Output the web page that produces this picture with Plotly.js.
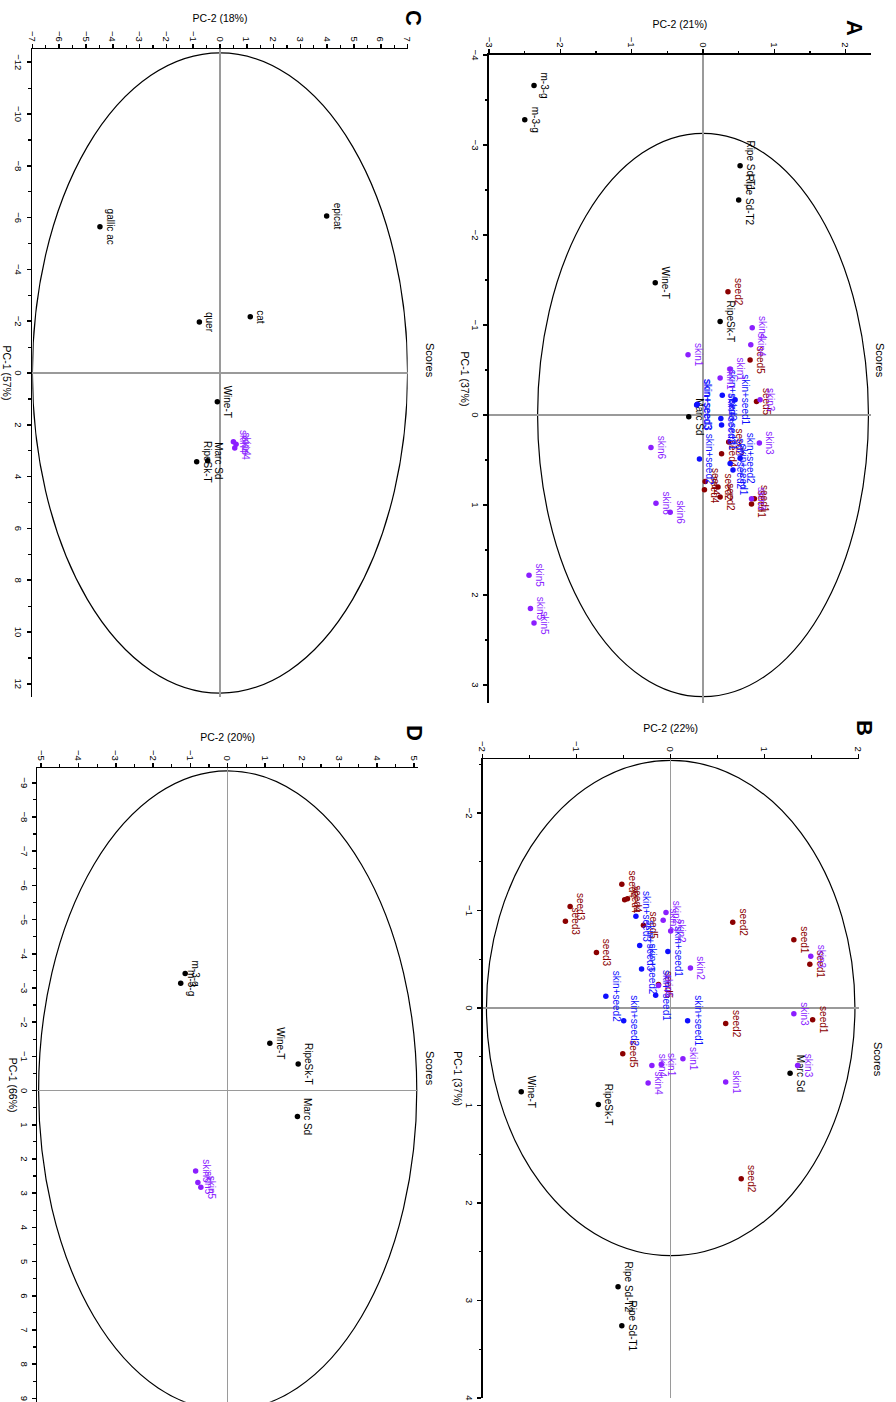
<!DOCTYPE html>
<html><head><meta charset="utf-8">
<script src="https://cdn.plot.ly/plotly-3.0.1.min.js"></script>
<style>
html,body{margin:0;padding:0;width:896px;height:1402px;overflow:hidden;background:#fff;}
#wrap{position:absolute;left:0;top:0;width:1402px;height:896px;transform-origin:0 0;transform:translate(896px,0) rotate(90deg);}
#chart{width:1402px;height:896px;}
</style></head><body><div id="wrap"><div id="chart"></div></div>
<script>
// ---------- Panel A ----------
const aRefLbl = ['m-3-g','m-3-g','Ripe Sd-T1','Ripe Sd-T2','Wine-T','RipeSk-T','Marc Sd'];
const aRefPC1 = [-3.66,-3.28,-2.77,-2.39,-1.47,-1.04,0.02];
const aRefPC2 = [-2.37,-2.50,0.52,0.50,-0.67,0.24,-0.20];
const aSeedLbl = ['seed2','seed5','seed5','seed2','seed4','seed4','seed4','seed2','seed2','seed1','seed1'];
const aSeedPC1 = [-1.37,-0.61,-0.15,0.30,0.43,0.74,0.83,0.80,0.91,0.99,0.93];
const aSeedPC2 = [0.35,0.66,0.75,0.36,0.26,0.03,0.02,0.21,0.24,0.68,0.72];
const aMixLbl = ['skin+seed3','skin+seed3','skin+seed2','skin+seed1','skin+seed2','skin+seed2','skin+seed1','skin+seed2','skin+seed3','skin+seed1'];
const aMixPC1 = [-0.12,-0.11,0.04,0.11,0.49,0.54,0.61,0.48,-0.22,-0.17];
const aMixPC2 = [-0.08,-0.09,0.25,0.26,-0.05,0.38,0.42,0.52,0.27,0.45];
const aSkinLbl = ['skin4','skin4','skin1','skin1','skin1','skin3','skin3','skin6','skin3','skin6','skin6','skin5','skin5','skin5'];
const aSkinPC1 = [-0.97,-0.78,-0.67,-0.51,-0.41,-0.17,0.31,0.36,0.93,0.98,1.08,1.78,2.15,2.31];
const aSkinPC2 = [0.69,0.67,-0.21,0.38,0.24,0.80,0.79,-0.73,0.68,-0.66,-0.46,-2.44,-2.42,-2.37];

// ---------- Panel B ----------
const bRefLbl = ['Wine-T','RipeSk-T','Ripe Sd-T2','Ripe Sd-T1','Marc Sd'];
const bRefPC1 = [0.86,0.99,2.86,3.26,0.67];
const bRefPC2 = [-1.59,-0.77,-0.56,-0.52,1.27];
const bSeedLbl = ['seed4','seed4','seed4','seed3','seed3','seed5','seed3','seed2','seed1','seed1','seed1','seed2','seed5','seed5','seed2'];
const bSeedPC1 = [-1.27,-1.11,-1.12,-1.04,-0.89,-0.85,-0.57,-0.88,-0.70,-0.45,0.12,0.16,0.47,-0.24,1.75];
const bSeedPC2 = [-0.52,-0.49,-0.46,-1.07,-1.12,-0.29,-0.79,0.66,1.31,1.48,1.51,0.585,-0.51,-0.13,0.75];
const bMixLbl = ['skin+seed3','skin+seed3','skin+seed2','skin+seed1','skin+seed2','skin+seed2','skin+seed1','skin+seed1'];
const bMixPC1 = [-0.94,-0.64,-0.40,-0.58,-0.12,0.13,0.13,-0.13];
const bMixPC2 = [-0.37,-0.33,-0.31,-0.03,-0.69,-0.50,0.18,-0.16];
const bSkinLbl = ['skin2','skin2','skin2','skin2','skin6','skin3','skin3','skin3','skin1','skin1','skin4','skin4','skin1'];
const bSkinPC1 = [-0.98,-0.90,-0.79,-0.41,-0.23,-0.53,0.06,0.59,0.52,0.58,0.59,0.77,0.76];
const bSkinPC2 = [-0.05,-0.08,0.00,0.21,-0.13,1.49,1.31,1.35,0.13,-0.10,-0.20,-0.24,0.585];

// ---------- Panel C ----------
const cRefLbl = ['gallic ac','epicat','cat','quer','Wine-T','Marc Sd','RipeSk-T'];
const cRefPC1 = [-5.65,-6.06,-2.17,-1.97,1.11,3.39,3.43];
const cRefPC2 = [-4.48,3.98,1.13,-0.77,-0.10,-0.46,-0.87];
const cSkinLbl = ['skin4','skin4','skin4'];
const cSkinPC1 = [2.65,2.75,2.90];
const cSkinPC2 = [0.50,0.60,0.55];

// ---------- Panel D ----------
const dRefLbl = ['m-3-g','m-3-g','Wine-T','RipeSk-T','Marc Sd'];
const dRefPC1 = [-3.42,-3.14,-1.38,-0.78,0.76];
const dRefPC2 = [-1.14,-1.26,1.13,1.89,1.87];
const dSkinLbl = ['skin5','skin5','skin5'];
const dSkinPC1 = [2.35,2.69,2.83];
const dSkinPC2 = [-0.86,-0.80,-0.72];

// confidence ellipse semi-axes [PC-1, PC-2]
const ellA = [3.13, 2.32];
const ellB = [2.54, 1.96];
const ellC = [12.36, 7.0];
const ellD = [9.35, 5.07];

const panelTitles = ['A','B','C','D'];
const pc1Titles = ['PC-1 (37%)','PC-1 (37%)','PC-1 (57%)','PC-1 (66%)'];
const pc2Titles = ['PC-2 (21%)','PC-2 (22%)','PC-2 (18%)','PC-2 (20%)'];

const FONT = 'Liberation Sans, Arial, sans-serif';
const COL = {ref:'#000000', seed:'#8B0000', mix:'#0F0FFF', skin:'#8B1EFF'};

function tr(x, y, t, col, ax){
  return {type:'scatter', mode:'markers+text', x:x, y:y, text:t,
    textposition:'top center', cliponaxis:false,
    textfont:{family:FONT, size:10, color:col},
    marker:{size:5.5, color:col}, xaxis:'x'+ax, yaxis:'y'+ax, hoverinfo:'skip'};
}
const data = [
  tr(aRefPC1,aRefPC2,aRefLbl,COL.ref,''),
  tr(aSeedPC1,aSeedPC2,aSeedLbl,COL.seed,''),
  tr(aMixPC1,aMixPC2,aMixLbl,COL.mix,''),
  tr(aSkinPC1,aSkinPC2,aSkinLbl,COL.skin,''),
  tr(bRefPC1,bRefPC2,bRefLbl,COL.ref,'2'),
  tr(bSeedPC1,bSeedPC2,bSeedLbl,COL.seed,'2'),
  tr(bMixPC1,bMixPC2,bMixLbl,COL.mix,'2'),
  tr(bSkinPC1,bSkinPC2,bSkinLbl,COL.skin,'2'),
  tr(cRefPC1,cRefPC2,cRefLbl,COL.ref,'3'),
  tr(cSkinPC1,cSkinPC2,cSkinLbl,COL.skin,'3'),
  tr(dRefPC1,dRefPC2,dRefLbl,COL.ref,'4'),
  tr(dSkinPC1,dSkinPC2,dSkinLbl,COL.skin,'4')
];

function axis(domain, range, dtick, minor, title, anchor, isY){
  return {domain:domain, range:range, dtick:dtick, tick0:0, anchor:anchor,
    showline:true, linecolor:'#000', linewidth:1.6, mirror:false,
    ticks:'outside', ticklen:4, tickwidth:1.5, tickcolor:'#000',
    minor:{dtick:minor, ticks:'outside', ticklen:2.5, tickwidth:1.2, tickcolor:'#000'},
    showgrid:false, zeroline:true, zerolinecolor:'#9a9a9a', zerolinewidth:1.2,
    tickfont:{family:FONT, size:9.5, color:'#000'},
    title:{text:title, standoff: isY?6:3, font:{family:FONT, size:10.5, color:'#000'}},
    fixedrange:true};
}

function ell(e, ax){
  return {type:'circle', xref:'x'+ax, yref:'y'+ax, x0:-e[0], x1:e[0], y0:-e[1], y1:e[1],
    line:{color:'#000', width:1.2}, layer:'below'};
}

function ann(x, y, text, size, bold){
  return {xref:'paper', yref:'paper', x:x, y:y, text: bold?'<b>'+text+'</b>':text, showarrow:false,
    xanchor:'center', yanchor:'middle', font:{family:FONT, size:size, color:'#000'}};
}

const layout = {
  width:1402, height:896, margin:{l:0,r:0,t:0,b:0}, showlegend:false,
  paper_bgcolor:'#fff', plot_bgcolor:'rgba(0,0,0,0)',
  xaxis:  axis([0.03923,0.50143],[-4,3.2],1,0.5,pc1Titles[0],'y',false),
  yaxis:  axis([0.54587,0.97165],[-3,2.35],1,0.5,pc2Titles[0],'x',true),
  xaxis2: axis([0.54165,0.99715],[-2.55,4.0],1,0.5,pc1Titles[1],'y2',false),
  yaxis2: axis([0.53873,0.95837],[-2,2],1,0.5,pc2Titles[1],'x2',true),
  xaxis3: axis([0.03513,0.49697],[-12.5,12.5],2,1,pc1Titles[2],'y3',false),
  yaxis3: axis([0.03616,0.45491],[-7,7],1,0.5,pc2Titles[2],'x3',true),
  xaxis4: axis([0.54807,0.99986],[-9.42,9.1],1,0.5,pc1Titles[3],'y4',false),
  yaxis4: axis([0.04185,0.46641],[-5.1,5.1],1,0.5,pc2Titles[3],'x4',true),
  shapes:[ell(ellA,''), ell(ellB,'2'), ell(ellC,'3'), ell(ellD,'4')],
  annotations:[
    ann(0.2568,0.982,'Scores',11,false),
    ann(0.756,0.980,'Scores',11,false),
    ann(0.2568,0.480,'Scores',11,false),
    ann(0.7618,0.480,'Scores',11,false),
    ann(0.020,0.954,panelTitles[0],22,true),
    ann(0.519,0.965,panelTitles[1],22,true),
    ann(0.0128,0.461,panelTitles[2],22,true),
    ann(0.5228,0.463,panelTitles[3],22,true)
  ]
};

Plotly.newPlot('chart', data, layout, {staticPlot:true, displayModeBar:false});
</script></body></html>
